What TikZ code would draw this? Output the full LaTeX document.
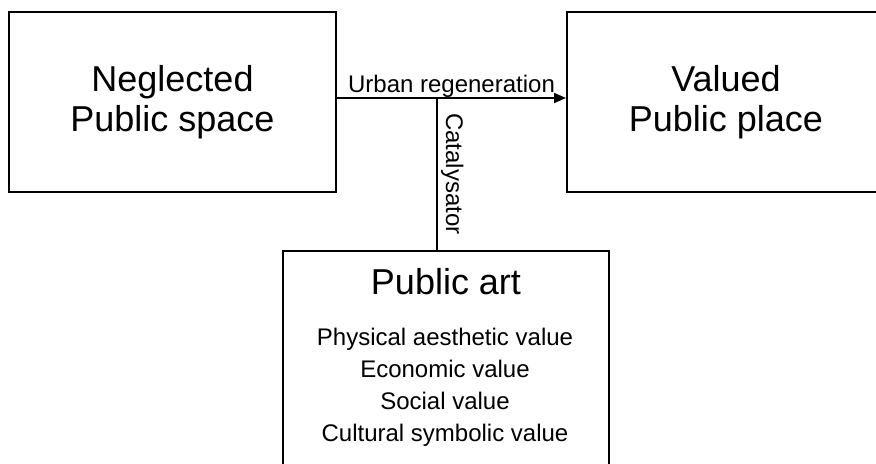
\documentclass[tikz,border=0pt]{standalone}
\usepackage{fontspec}
\setmainfont{Liberation Sans}
\usetikzlibrary{arrows.meta}

\begin{document}
\begin{tikzpicture}[auto,x=0.5pt,y=-0.5pt,line width=1pt,>={Triangle[length=6pt,width=5pt]},
  main node/.style={rectangle,draw,align=center,font=\fontsize{18}{20}\selectfont},
  value node/.style={align=center,inner sep=0pt,font=\fontsize{12}{16}\selectfont},
  link node/.style={font=\fontsize{12}{14}\selectfont,text depth=0pt}]
    \useasboundingbox (0,0) rectangle (876,464);
    \node[main node, minimum width=163.5pt, minimum height=90pt] (N) at (172.5,102) {Neglected\\Public space};
    \node[main node, minimum width=159pt, minimum height=90pt] (V) at (726,102) {Valued\\Public place};
    \node[main node, minimum width=163pt, minimum height=115pt, anchor=north] (P) at (446,250) {};
    \node[main node, draw=none, anchor=base] (T) at (446,294) {Public art};
    \node[value node, anchor=north] (L) at (445,327.5) {Physical aesthetic value\\Economic value\\Social value\\Cultural symbolic value};
    \coordinate (J) at (437,98);
    \path [->] (N.east |- J) edge node[link node, inner sep=2pt] {Urban regeneration} (V.west |- J);
    \path (J) edge node[link node, midway, rotate=-90, anchor=south, inner sep=4pt] {Catalysator} (J |- P.north);
\end{tikzpicture}
\end{document}
